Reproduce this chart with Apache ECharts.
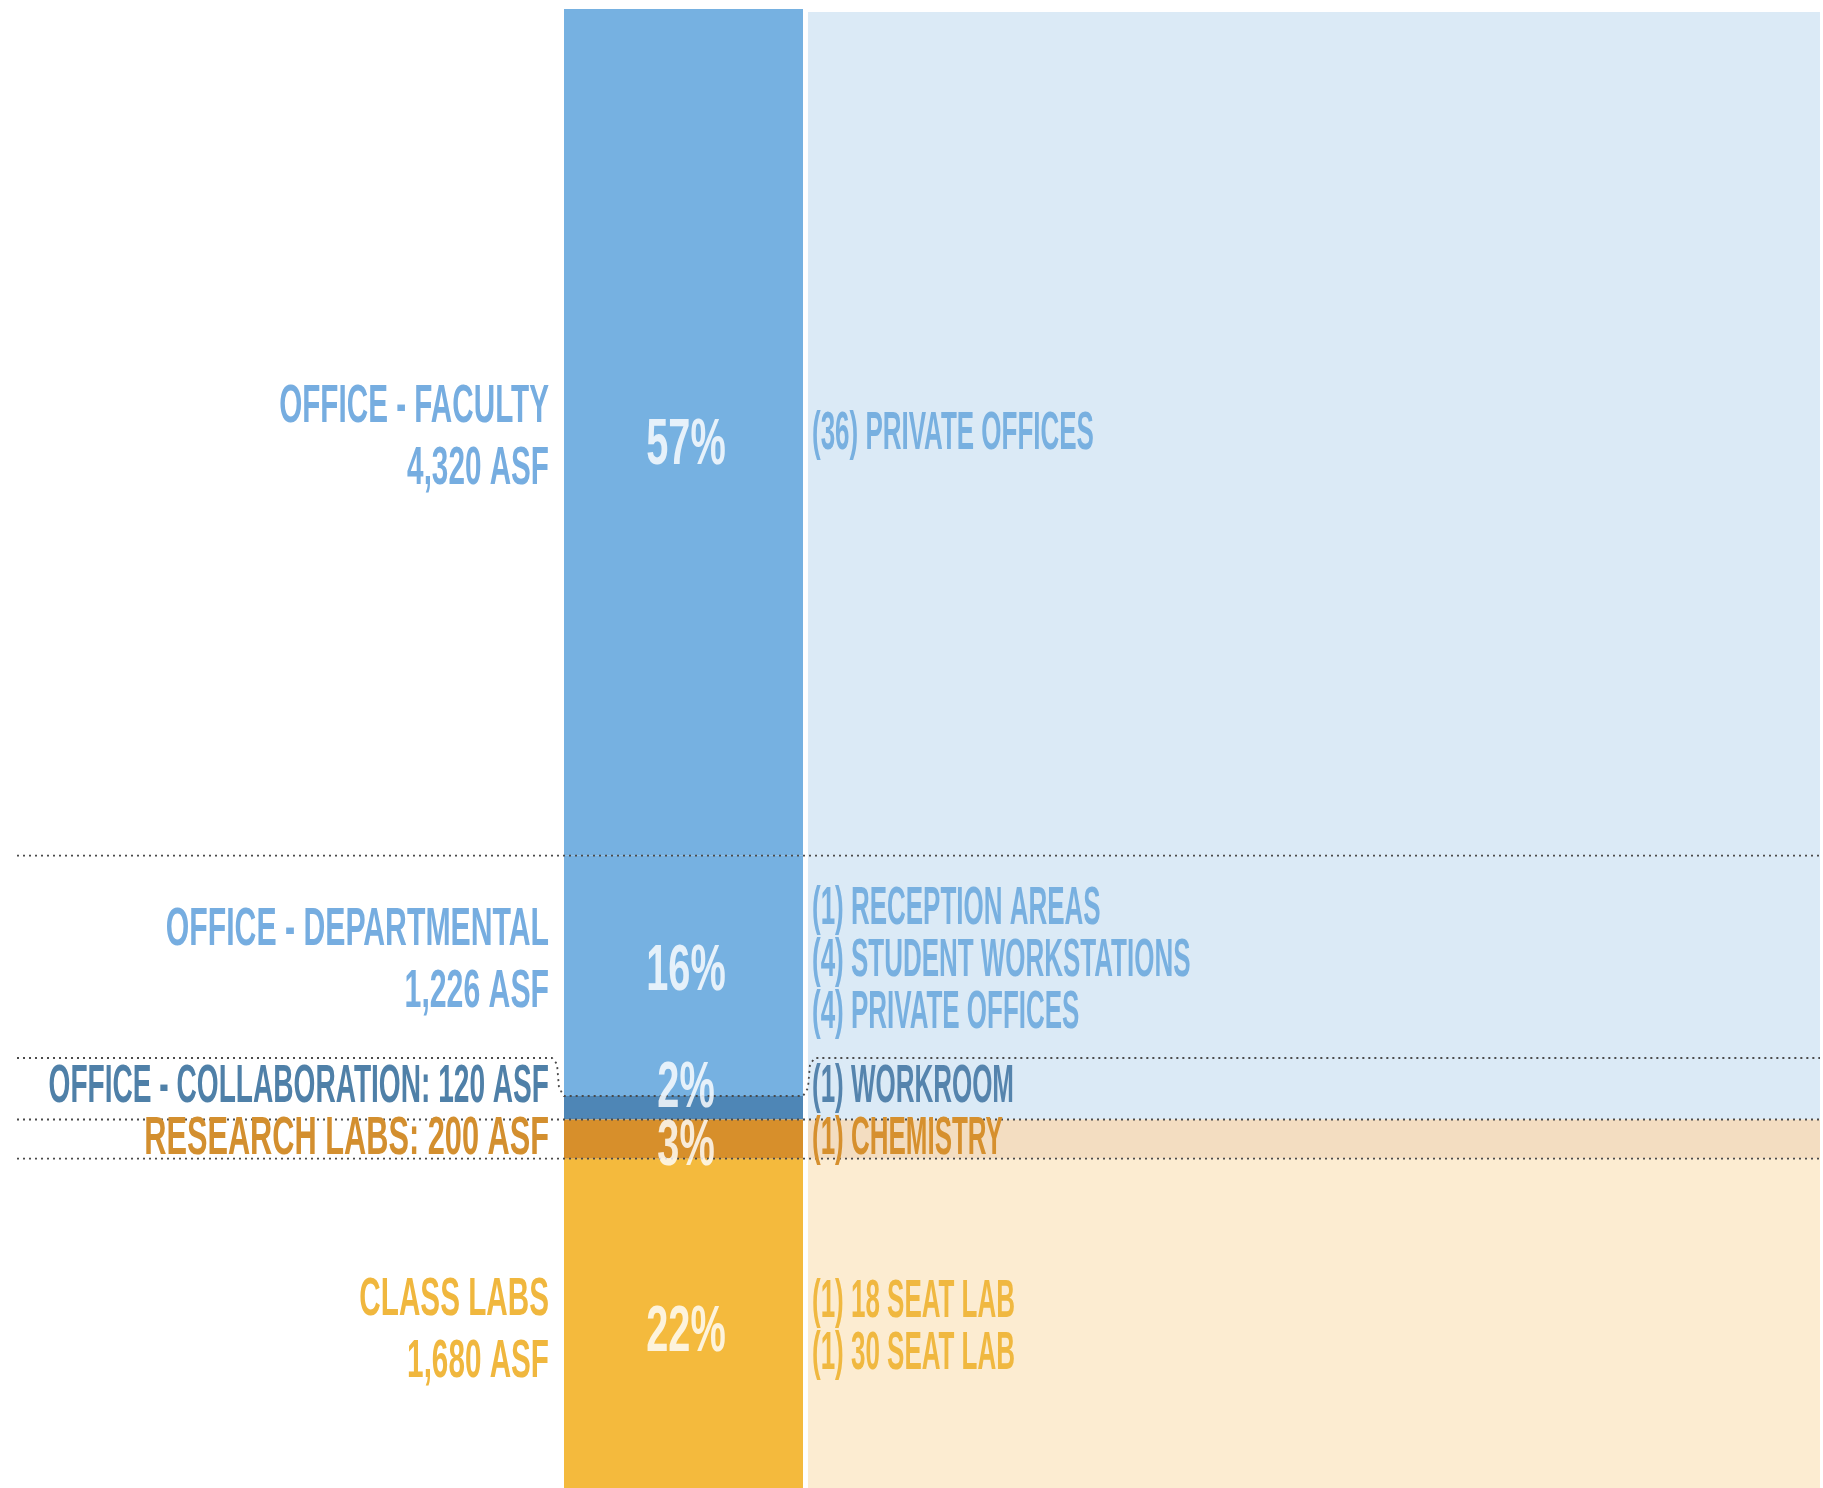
<!DOCTYPE html>
<html><head><meta charset="utf-8">
<script src="https://cdn.jsdelivr.net/npm/echarts@6/dist/echarts.min.js"></script>
<style>html,body{margin:0;padding:0;background:#fff}#c{width:1823px;height:1488px}</style>
</head><body><div id="c"></div>
<script>
// ---- data ----
const categories = ['OFFICE - FACULTY','OFFICE - DEPARTMENTAL','OFFICE - COLLABORATION','RESEARCH LABS','CLASS LABS'];
const asf = [4320, 1226, 120, 200, 1680];
const percentLabels = ['57%','16%','2%','3%','22%'];
const leftLabels = [
  ['OFFICE - FACULTY','4,320 ASF'],
  ['OFFICE - DEPARTMENTAL','1,226 ASF'],
  ['OFFICE - COLLABORATION: 120 ASF'],
  ['RESEARCH LABS: 200 ASF'],
  ['CLASS LABS','1,680 ASF']
];
const roomLists = [
  ['(36) PRIVATE OFFICES'],
  ['(1) RECEPTION AREAS','(4) STUDENT WORKSTATIONS','(4) PRIVATE OFFICES'],
  ['(1) WORKROOM'],
  ['(1) CHEMISTRY'],
  ['(1) 18 SEAT LAB','(1) 30 SEAT LAB']
];

// ---- style ----
const barColors   = ['#76b1e1','#76b1e1','#4e86b6','#d78f2b','#f4ba3d'];
const labelColors = ['#76ade0','#76ade0','#4f80a8','#d38f2f','#f0b73e'];
const roomColors  = ['#78b0e0','#78b0e0','#5584ad','#d6902e','#f0b840'];
const panelColors = ['#dbeaf6','#dbeaf6','#dbeaf6','#f3ddc1','#fcecd1'];
const FONT = '"Liberation Sans", Arial, sans-serif';
const layout = { barLeft:564, barRight:803, panelLeft:808, panelRight:1820,
  leftTextX:549, roomTextX:812, lineLeft:17, lineRight:1820, pctX:686, W:1823 };
const labelNudge = [6,-14,-20,0,8];
const pctNudge   = [14,-3,-18,8,10];
const roomNudge  = [2,-14,-20,0,5];
const leftLineGap = 62, roomLineGap = 52;
const leftScale = [0.56,0.57,0.53,0.58,0.56];
const dividers = ['line','bracket','line','line',null];
const bracketRise = 38;

const total = asf.reduce((a,b)=>a+b,0);
const starts = []; { let acc = 0; asf.forEach(v=>{ starts.push(acc); acc += v; }); }
const segData = categories.map((c,i)=>[starts[i], starts[i]+asf[i], i]);

function txt(t, x, y, align, fill, size, sx){
  return { type:'text', x:x, y:y, scaleX:sx, scaleY:1, originX:0, originY:0,
    style:{ text:t, fill:fill, fontSize:size, fontWeight:'bold', fontFamily:FONT,
      align:align, verticalAlign:'middle' } };
}
const lineStyle = { stroke:'#4a4a4a', lineWidth:1.8, lineDash:[2,4], fill:null };

function renderPanel(params, api){
  const i = api.value(2);
  const p0 = api.coord([layout.panelLeft, api.value(0)]);
  const p1 = api.coord([layout.panelRight, api.value(1)]);
  return { type:'rect', shape:{x:p0[0], y:p0[1]+(i===0?3:0), width:p1[0]-p0[0], height:p1[1]-p0[1]-(i===0?3:0)},
    style:{ fill:panelColors[i] } };
}

function renderLabels(params, api){
  const i = api.value(2);
  const yTop = api.coord([0, api.value(0)])[1];
  const yBot = api.coord([0, api.value(1)])[1];
  const mid = (yTop + yBot) / 2;
  const ch = [];
  const lx = api.coord([layout.leftTextX, 0])[0];
  const rx = api.coord([layout.roomTextX, 0])[0];
  const px = api.coord([layout.pctX, 0])[0];
  const xl = api.coord([layout.lineLeft, 0])[0];
  const xr = api.coord([layout.lineRight, 0])[0];
  const bl = api.coord([layout.barLeft, 0])[0];
  const br = api.coord([layout.barRight, 0])[0];

  const d = dividers[i];
  if (d === 'line') {
    ch.push({ type:'polyline', shape:{points:[[xl,yBot],[xr,yBot]]}, style:lineStyle });
  } else if (d === 'bracket') {
    const yt = yBot - bracketRise;
    ch.push({ type:'polyline', shape:{points:[
      [xl,yt],[bl-12,yt],[bl-7,yt+6],[bl-5,yBot-8],[bl,yBot],
      [br,yBot],[br+5,yBot-8],[br+7,yt+6],[br+12,yt],[xr,yt]]}, style:lineStyle });
  }

  const L = leftLabels[i], cy = mid + labelNudge[i];
  L.forEach((t,k)=>{
    ch.push(txt(t, lx, cy + (k-(L.length-1)/2)*leftLineGap, 'right', labelColors[i], 53, leftScale[i]));
  });
  const R = roomLists[i], ry = mid + roomNudge[i];
  R.forEach((t,k)=>{
    ch.push(txt(t, rx, ry + (k-(R.length-1)/2)*roomLineGap, 'left', roomColors[i], 53, 0.49));
  });
  ch.push(txt(percentLabels[i], px, mid + pctNudge[i], 'center', 'rgba(255,255,255,0.82)', 64, 0.62));
  return { type:'group', children:ch };
}

const chart = echarts.init(document.getElementById('c'), null, {renderer:'canvas'});
const barSeries = categories.map((c,i)=>({
  type:'bar', name:c, stack:'total', data:[asf[i]], xAxisIndex:0, yAxisIndex:0,
  barWidth:'100%', itemStyle:{ color:barColors[i] }, z:2, silent:true
}));

chart.setOption({
  animation:false,
  backgroundColor:'#ffffff',
  grid:[
    { left:layout.barLeft, width:layout.barRight-layout.barLeft, top:9, bottom:0 },
    { left:0, width:layout.W, top:9, bottom:0 }
  ],
  xAxis:[
    { type:'category', gridIndex:0, data:['ASF'], show:false },
    { type:'value', gridIndex:1, min:0, max:layout.W, show:false }
  ],
  yAxis:[
    { type:'value', gridIndex:0, min:0, max:total, inverse:true, show:false },
    { type:'value', gridIndex:1, min:0, max:total, inverse:true, show:false }
  ],
  series:[
    { type:'custom', name:'panels', xAxisIndex:1, yAxisIndex:1, z:1, silent:true,
      renderItem:renderPanel, data:segData },
    ...barSeries,
    { type:'custom', name:'labels', xAxisIndex:1, yAxisIndex:1, z:5, silent:true,
      renderItem:renderLabels, data:segData }
  ]
});
</script>
</body></html>
